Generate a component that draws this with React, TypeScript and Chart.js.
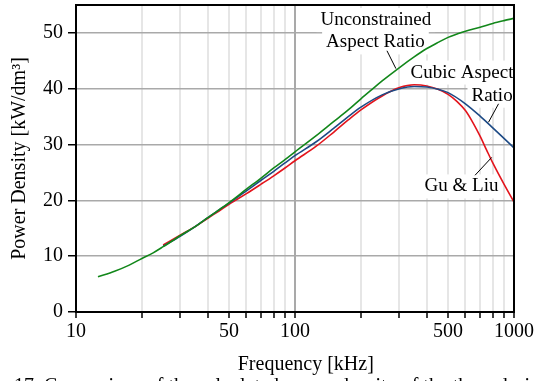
import React, { useEffect, useRef } from "react";
import { Chart, registerables } from "chart.js";

Chart.register(...registerables);

// ---- data (frequency in kHz, power density in kW/dm^3) ----
const freqUnconstrained = [12.6, 15, 17.5, 20, 22.5, 25, 30, 35, 40, 45, 50, 60, 70, 80, 90, 100, 125, 150, 175, 200, 225, 250, 300, 350, 400, 450, 500, 550, 600, 700, 800, 900, 1000];
const unconstrained = [6.3, 7.3, 8.4, 9.6, 10.6, 11.7, 13.7, 15.3, 16.9, 18.3, 19.6, 22.0, 24.0, 25.8, 27.3, 28.7, 31.6, 34.1, 36.2, 38.2, 39.9, 41.4, 43.8, 45.7, 47.2, 48.3, 49.2, 49.8, 50.3, 51.0, 51.7, 52.2, 52.6];

const freqCubic = [25, 30, 35, 40, 45, 50, 60, 70, 80, 90, 100, 125, 150, 175, 200, 250, 300, 350, 400, 450, 500, 600, 700, 800, 900, 1000];
const cubic = [11.8, 13.6, 15.3, 16.9, 18.3, 19.5, 21.7, 23.6, 25.2, 26.7, 28.0, 30.5, 32.9, 35.0, 36.7, 38.9, 40.0, 40.4, 40.3, 39.9, 39.3, 37.3, 35.1, 33.0, 31.1, 29.4];

const freqGuLiu = [25, 30, 35, 40, 45, 50, 60, 70, 80, 90, 100, 125, 150, 175, 200, 250, 300, 350, 400, 450, 500, 550, 600, 650, 700, 750, 800, 900, 1000];
const guLiu = [12.0, 13.8, 15.3, 16.8, 18.1, 19.3, 21.2, 22.9, 24.4, 25.8, 27.1, 29.7, 32.2, 34.4, 36.2, 38.7, 40.2, 40.7, 40.5, 39.9, 39.0, 37.7, 36.1, 33.9, 31.5, 29.0, 26.7, 22.9, 19.7];

const xTickValues = [10, 20, 30, 40, 50, 60, 70, 80, 90, 100, 200, 300, 400, 500, 600, 700, 800, 900, 1000];
const xTickLabels = [10, 50, 100, 500, 1000];
const yTickValues = [0, 10, 20, 30, 40, 50];

const xTitle = "Frequency [kHz]";
const yTitle = "Power Density [kW/dm³]";
const caption = "17. Comparison of the calculated power density of the three designs";

// annotation labels placed in data coordinates
const labelGroups = [
  { lines: ["Unconstrained", "Aspect Ratio"], at: [[234, 52.3], [233, 48.3]], leader: [[263, 46.8], [289, 43.6]] },
  { lines: ["Cubic Aspect", "Ratio"], at: [[579, 42.9], [794, 38.75]], leader: [[850, 37.3], [765, 34.0]] },
  { lines: ["Gu & Liu"], at: [[576, 22.5]], leader: [[791, 27.7], [664, 24.5]] },
];

const SERIF = "'Liberation Serif', 'Times New Roman', serif";

export default function App() {
  const ref = useRef<HTMLCanvasElement>(null);

  useEffect(() => {
    const canvas = ref.current;
    if (!canvas) return;
    const pts = (xs: number[], ys: number[]) => xs.map((x, i) => ({ x, y: ys[i] }));
    const labelFont = `19px ${SERIF}`;

    const boxesOf = (chart: any) => {
      const xs = chart.scales.x, ys = chart.scales.y;
      const ctx = chart.ctx;
      ctx.font = labelFont;
      return labelGroups.map((g) =>
        g.lines.map((t, i) => {
          const w = ctx.measureText(t).width;
          const cx = xs.getPixelForValue(g.at[i][0]);
          const cy = ys.getPixelForValue(g.at[i][1]);
          return { t, cx, cy, w };
        })
      );
    };

    const annot = {
      id: "annot",
      beforeDatasetsDraw(chart: any) {
        const ctx = chart.ctx;
        const a = chart.chartArea;
        ctx.save();
        ctx.beginPath();
        ctx.rect(a.left, a.top, a.right - a.left, a.bottom - a.top);
        ctx.clip();
        ctx.fillStyle = "#ffffff";
        boxesOf(chart).forEach((grp) =>
          grp.forEach((b) => {
            ctx.fillRect(b.cx - b.w / 2 - 4, b.cy - 12, b.w + 8, 24);
          })
        );
        ctx.restore();
      },
      afterDraw(chart: any) {
        const ctx = chart.ctx;
        const a = chart.chartArea;
        const xs = chart.scales.x, ys = chart.scales.y;
        ctx.save();
        // frame top and right
        ctx.strokeStyle = "#000";
        ctx.lineWidth = 2;
        ctx.beginPath();
        ctx.moveTo(a.left, a.top);
        ctx.lineTo(a.right, a.top);
        ctx.lineTo(a.right, a.bottom);
        ctx.stroke();
        // labels
        ctx.fillStyle = "#000";
        ctx.font = labelFont;
        ctx.textAlign = "center";
        ctx.textBaseline = "middle";
        boxesOf(chart).forEach((grp) => grp.forEach((b) => ctx.fillText(b.t, b.cx, b.cy)));
        ctx.lineWidth = 1;
        labelGroups.forEach((g) => {
          ctx.beginPath();
          ctx.moveTo(xs.getPixelForValue(g.leader[0][0]), ys.getPixelForValue(g.leader[0][1]));
          ctx.lineTo(xs.getPixelForValue(g.leader[1][0]), ys.getPixelForValue(g.leader[1][1]));
          ctx.stroke();
        });
        // x-axis title
        ctx.font = `20px ${SERIF}`;
        ctx.textBaseline = "alphabetic";
        ctx.fillText(xTitle, xs.getPixelForValue(112), a.bottom + 58);
        // caption (cut off at bottom edge)
        ctx.textAlign = "left";
        ctx.fillText(caption, 14, a.bottom + 80);
        ctx.restore();
      },
    };

    const chart = new Chart(canvas, {
      type: "line",
      data: {
        datasets: [
          { label: "Unconstrained Aspect Ratio", data: pts(freqUnconstrained, unconstrained), borderColor: "#12871a", borderWidth: 1.6 },
          { label: "Cubic Aspect Ratio", data: pts(freqCubic, cubic), borderColor: "#1d4a85", borderWidth: 1.6 },
          { label: "Gu & Liu", data: pts(freqGuLiu, guLiu), borderColor: "#e3141c", borderWidth: 1.6 },
        ],
      },
      options: {
        animation: false,
        responsive: false,
        devicePixelRatio: 1,
        layout: { padding: { top: 5, right: 20, left: 0, bottom: 0 } },
        elements: { point: { radius: 0 }, line: { cubicInterpolationMode: "monotone", fill: false } },
        plugins: { legend: { display: false }, tooltip: { enabled: false } },
        scales: {
          x: {
            type: "logarithmic",
            min: 10,
            max: 1000,
            afterBuildTicks: (s: any) => {
              s.ticks = xTickValues.map((v) => ({ value: v }));
            },
            afterFit: (s: any) => {
              s.height = 69;
              s.paddingLeft = 0;
              s.paddingRight = 0;
            },
            ticks: {
              autoSkip: false,
              maxRotation: 0,
              padding: 2,
              color: "#000",
              font: { family: SERIF, size: 20 },
              callback: (v: any) => (xTickLabels.includes(Number(v)) ? String(v) : ""),
            },
            grid: {
              color: (c: any) => (c.tick && c.tick.value === 100 ? "#a9a9a9" : "#e6e6e6"),
              lineWidth: 2,
              tickColor: "#000",
              tickLength: 6,
              tickWidth: 1.5,
            },
            border: { color: "#000", width: 2 },
          },
          y: {
            type: "linear",
            min: 0,
            max: 55,
            afterBuildTicks: (s: any) => {
              s.ticks = yTickValues.map((v) => ({ value: v }));
            },
            afterFit: (s: any) => {
              s.width = 76;
              s.paddingTop = 0;
              s.paddingBottom = 0;
            },
            ticks: { padding: 5, color: "#000", font: { family: SERIF, size: 20 } },
            grid: {
              color: (c: any) => (c.tick && c.tick.value === 0 ? "rgba(0,0,0,0)" : "#a9a9a9"),
              lineWidth: 1.5,
              tickColor: "#000",
              tickLength: 8,
              tickWidth: 1.5,
            },
            border: { color: "#000", width: 2 },
            title: { display: true, text: yTitle, color: "#000", font: { family: SERIF, size: 20 }, padding: { top: 8, bottom: 0 } },
          },
        },
      },
      plugins: [annot],
    });
    return () => chart.destroy();
  }, []);

  return (
    <div style={{ position: "fixed", left: 0, top: 0, width: 534, height: 381, background: "#fff", overflow: "hidden" }}>
      <canvas ref={ref} width={534} height={381} />
    </div>
  );
}
